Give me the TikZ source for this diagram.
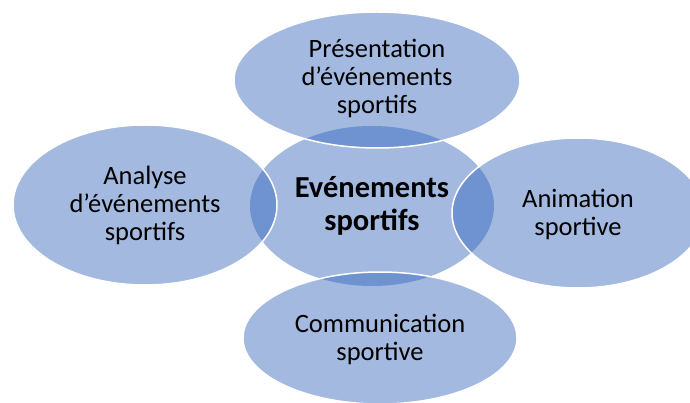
\documentclass[tikz,border=0pt]{standalone}
\usepackage{fontspec}
\setmainfont{Carlito}
\definecolor{lightb}{RGB}{163,185,224}
\definecolor{darkb}{RGB}{111,146,208}
\begin{document}
\begin{tikzpicture}[x=1pt,y=-1pt,
  lbl/.style={align=center,font=\fontsize{26.5}{28}\selectfont,text=black,inner sep=0pt},
  clbl/.style={align=center,font=\fontsize{30.5}{33}\selectfont\bfseries,text=black,inner sep=0pt},
  rim/.style={draw=white,line width=1.5pt}]
\useasboundingbox (0,0) rectangle (690,403);
% centre
\fill[lightb] (372,206) ellipse [x radius=122, y radius=80];
% outer ellipses
\foreach \cx/\cy/\rx/\ry in {377/80/143/68, 145/205/132/80, 578/213/126/75, 380/338/137/66}{
  \fill[lightb] (\cx,\cy) ellipse [x radius=\rx, y radius=\ry];
  \begin{scope}
    \clip (\cx,\cy) ellipse [x radius=\rx, y radius=\ry];
    \fill[darkb] (372,206) ellipse [x radius=122, y radius=80];
  \end{scope}
  \draw[rim] (\cx,\cy) ellipse [x radius=\rx, y radius=\ry];
}
\node[clbl] (center) at (372,206) {Evénements\\sportifs};
\node[lbl] (top) at (377,78) {Présentation\\d’événements\\sportifs};
\node[lbl] (left) at (145,205) {Analyse\\d’événements\\sportifs};
\node[lbl] (right) at (578,214) {Animation\\sportive};
\node[lbl] (bottom) at (380,339) {Communication\\sportive};
\end{tikzpicture}
\end{document}
